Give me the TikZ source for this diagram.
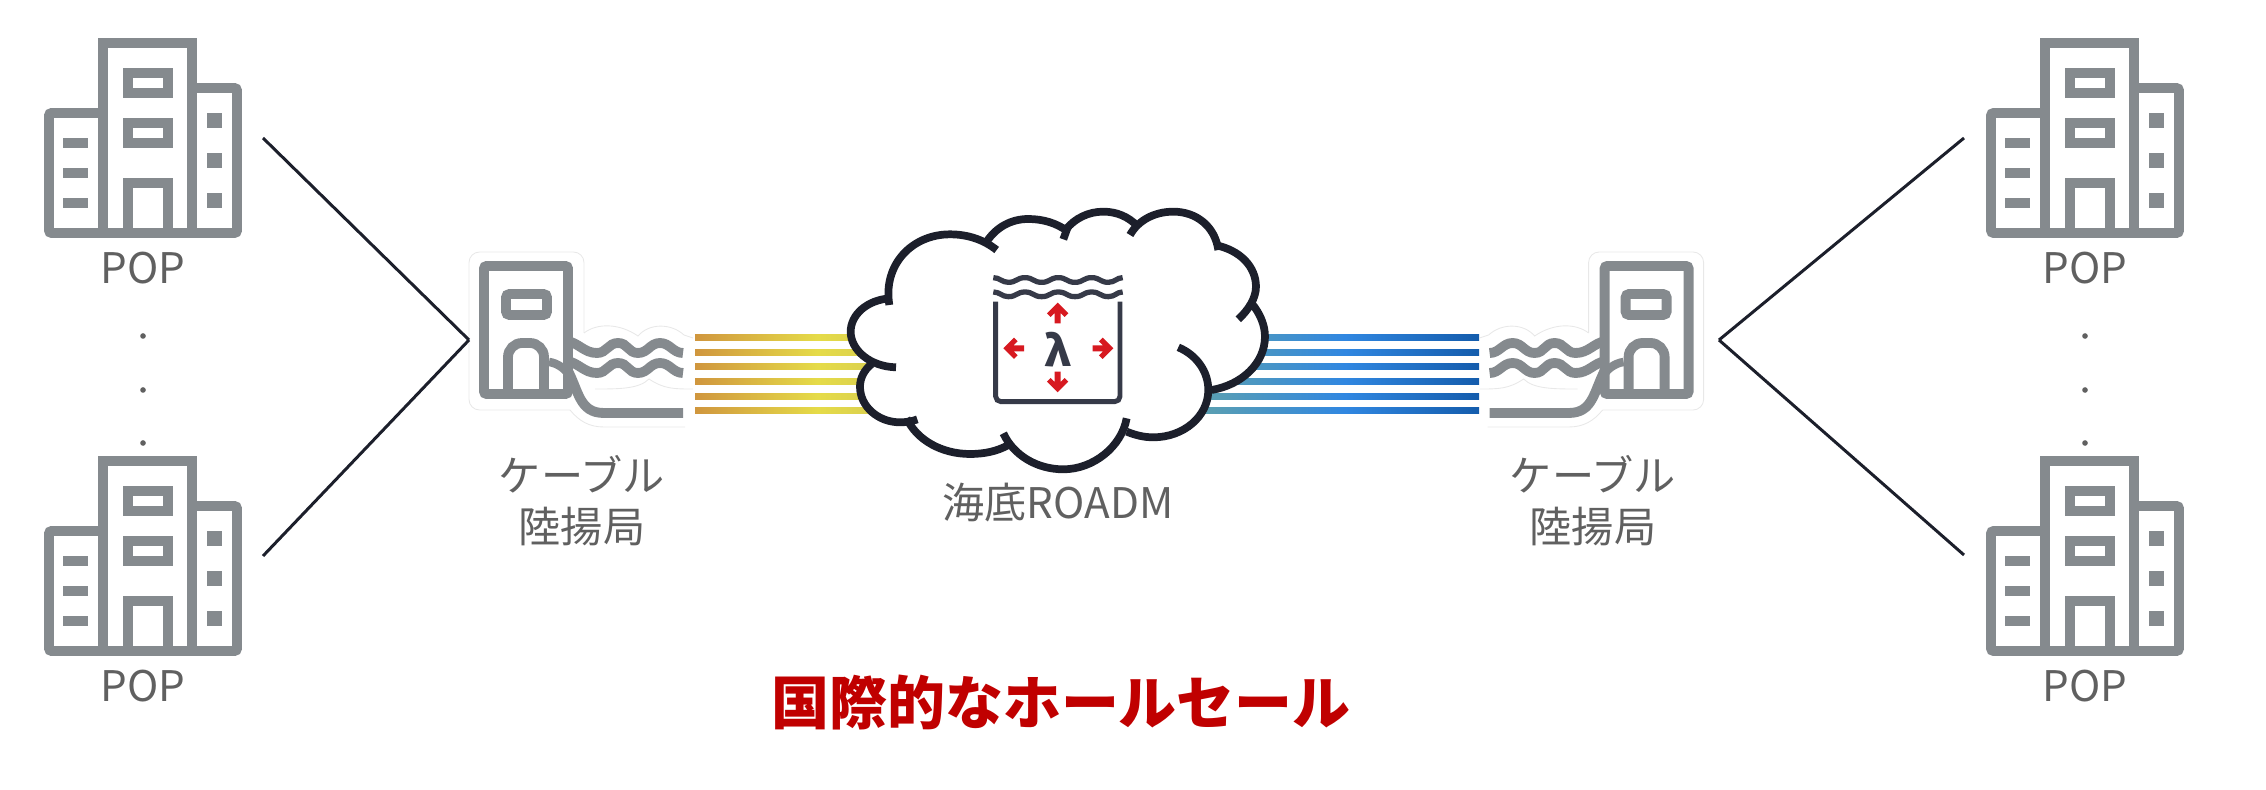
\documentclass[tikz,border=0pt]{standalone}
\usepackage{fontspec}
\setmainfont{Noto Sans CJK JP}
\usetikzlibrary{positioning}
\definecolor{colorbuilding}{RGB}{133,138,142}
\definecolor{colorcloud}   {RGB}{ 28, 31, 43}
\definecolor{colorlink}    {RGB}{ 28, 31, 43}
\definecolor{colorlabel}   {RGB}{ 96, 96, 96}
\definecolor{colortitle}   {RGB}{192,  0,  0}
\definecolor{colorarrow}   {RGB}{215, 25, 32}
\definecolor{colorroadm}   {RGB}{ 54, 58, 72}
\definecolor{fibreorange}  {RGB}{208,150, 62}
\definecolor{fibreyellow}  {RGB}{229,219, 72}
\definecolor{fibreolive}   {RGB}{218,208, 80}
\definecolor{fibreteal}    {RGB}{ 92,160,176}
\definecolor{fibreblue}    {RGB}{ 48,135,225}
\definecolor{fibredark}    {RGB}{ 20, 92,172}
\pgfdeclarehorizontalshading{warmfibre}{100bp}{color(0bp)=(fibreorange); color(25bp)=(fibreorange); color(59bp)=(fibreyellow); color(75bp)=(fibreolive); color(100bp)=(fibreolive)}
\pgfdeclarehorizontalshading{coolfibre}{100bp}{color(0bp)=(fibreteal); color(25bp)=(fibreteal); color(51bp)=(fibreblue); color(75bp)=(fibredark); color(100bp)=(fibredark)}
\begin{document}
\begin{tikzpicture}[
    x=0.02cm, y=-0.02cm,
    node distance = 2em,
    link/.style={draw=colorlink,line width=1.7pt},
    wall/.style={draw=colorbuilding,line width=5.6pt},
    halo/.style={draw=black!9,line width=0.5pt},
    cloudline/.style={draw=colorcloud,line width=4.4pt},
    roadmline/.style={draw=colorroadm,line width=2.8pt},
    base/.style={text=colorlabel,font={\fontsize{24}{29}\selectfont},inner sep=0pt,align=center},
    headline/.style={text=colortitle,font={\fontsize{33}{40}\selectfont\bfseries},inner sep=0pt},
    dotmark/.style={circle,fill=colorlabel,inner sep=0pt,minimum size=3.2pt},
    popicon/.pic={
        \draw[wall,rounded corners=1.5pt] (103,113) -- (49,113) -- (49,233) -- (237,233) -- (237,88) -- (192,88);
        \draw[wall,line join=miter] (103,233) -- (103,43) -- (192,43) -- (192,233);
        \draw[wall] (128,73) rectangle (168,93);
        \draw[wall] (128,123) rectangle (168,143);
        \draw[wall] (128,233) -- (128,183) -- (168,183) -- (168,233);
        \foreach \bary in {138,168,198} \fill[colorbuilding] (63,\bary) rectangle (88,\bary+10);
        \foreach \boxy in {113,153,193} \fill[colorbuilding] (207,\boxy) rectangle (222,\boxy+15);
    },
    stationicon/.pic={
        \draw[halo,rounded corners=6pt] (105,72) -- (105,-9) -- (-10,-9) -- (-10,149) -- (91,149);
        \draw[halo] (105,72) .. controls (118,62) and (140,62) .. (159,75) .. controls (170,62) and (192,62) .. (205,74) -- (214,77);
        \draw[halo] (91,149) .. controls (100,160) and (110,166) .. (125,166) -- (206,166);
        \draw[halo] (214,128) .. controls (195,128) and (185,128) .. (170,118) .. controls (160,128) and (140,128) .. (116,128);
        \draw[wall,rounded corners=1.5pt] (5,5) rectangle (89,133);
        \draw[wall,rounded corners=2pt] (27,33) rectangle (68,54);
        \draw[wall,rounded corners=8pt] (29,133) -- (29,82) -- (65,82) -- (65,133);
        \foreach \wavey in {82,102} {
            \draw[wall] (88,\wavey-2) .. controls (100,\wavey) and (105,\wavey+10) .. (118,\wavey+10) .. controls (128,\wavey+10) and (129,\wavey) .. (139,\wavey) .. controls (149,\wavey) and (149,\wavey+10) .. (159,\wavey+10) .. controls (169,\wavey+10) and (171,\wavey) .. (181,\wavey) .. controls (191,\wavey) and (194,\wavey+10) .. (204,\wavey+10);
        }
        \draw[wall,line width=4.8pt] (70,101) .. controls (78,102) and (88,108) .. (92,118);
        \draw[wall] (88,108) .. controls (100,130) and (100,152) .. (125,152) -- (204,152);
    },
    spreadarrow/.pic={
        \fill[colorarrow] (0,0) -- (32,32) -- (21,43) -- (9,31) -- (9,62) -- (-9,62) -- (-9,31) -- (-21,43) -- (-32,32) -- cycle;
    },
]

    \useasboundingbox (0,0) rectangle (2266,790);

    \foreach \row in {338,353,367,382,397,411} {
        \shade[shading=warmfibre] (695,\row-3) rectangle (875,\row+3);
        \shade[shading=coolfibre] (1200,\row-3) rectangle (1479,\row+3);
    }

    \pic at (0,0)      {popicon};
    \pic at (0,418)    {popicon};
    \pic at (1942,0)   {popicon};
    \pic at (1942,418) {popicon};
    \pic at (479,261)                {stationicon};
    \pic[xscale=-1] at (1693.6,261)  {stationicon};

    \node[base] (poptopleft)     at (143,268)  {POP};
    \node[base] (popbottomleft)  at (143,686)  {POP};
    \node[base] (poptopright)    at (2085,268) {POP};
    \node[base] (popbottomright) at (2085,686) {POP};

    \foreach \doty/\dotname in {336/a,390/b,443/c} {
        \node[dotmark] (dotleft\dotname)  at (143,\doty)  {};
        \node[dotmark] (dotright\dotname) at (2085,\doty) {};
    }

    \coordinate (linktopleft)     at (263,138);
    \coordinate (linkbottomleft)  at (263,556);
    \coordinate (stationleft)     at (469,340);
    \coordinate (linktopright)    at (1964,138);
    \coordinate (linkbottomright) at (1964,555);
    \coordinate (stationright)    at (1719,340);

    \draw[link](linktopleft) -- (stationleft);
    \draw[link](linkbottomleft) -- (stationleft);
    \draw[link](linktopright) -- (stationright);
    \draw[link](linkbottomright) -- (stationright);

    \node[base] (labelleft)  at (582,501)  {ケーブル\\陸揚局};
    \node[base] (labelright) at (1593,501) {ケーブル\\陸揚局};

    \begin{scope}[shift={(840,190)},x=0.02cm/3,y=-0.02cm/3]
        \fill[white] (145,320) .. controls (128,225) and (215,133) .. (330,133) .. controls (380,133) and (415,145) .. (440,155) .. controls (470,110) and (515,87) .. (565,87) .. controls (610,87) and (650,100) .. (678,118) .. controls (705,85) and (745,65) .. (790,65) .. controls (830,65) and (865,80) .. (885,105) .. controls (910,80) and (950,65) .. (1000,65) .. controls (1070,65) and (1125,100) .. (1135,165) .. controls (1200,180) and (1248,230) .. (1248,290) .. controls (1248,310) and (1242,325) .. (1235,340) .. controls (1260,370) and (1275,405) .. (1275,440) .. controls (1275,520) and (1205,585) .. (1115,600) .. controls (1105,680) and (1030,742) .. (940,742) .. controls (910,742) and (885,735) .. (855,725) .. controls (830,790) and (760,838) .. (670,838) .. controls (590,838) and (535,810) .. (500,765) .. controls (470,785) and (430,792) .. (390,792) .. controls (305,792) and (230,750) .. (200,692) .. controls (193,695) and (186,697) .. (180,697) .. controls (115,697) and (60,650) .. (60,590) .. controls (60,565) and (72,540) .. (95,522) .. controls (55,510) and (32,470) .. (32,425) .. controls (32,375) and (80,330) .. (145,320) -- cycle;
        \draw[cloudline] (148,345) .. controls (128,225) and (215,133) .. (330,133) .. controls (385,133) and (432,150) .. (470,180);
        \draw[cloudline] (440,155) .. controls (470,110) and (515,87) .. (565,87) .. controls (610,87) and (650,100) .. (680,122);
        \draw[cloudline] (683,112) -- (670,148);
        \draw[cloudline] (678,118) .. controls (705,85) and (745,65) .. (790,65) .. controls (830,65) and (865,80) .. (892,108);
        \draw[cloudline] (870,135) .. controls (895,90) and (945,65) .. (1000,65) .. controls (1070,65) and (1125,110) .. (1135,180);
        \draw[cloudline] (1125,165) .. controls (1200,180) and (1248,230) .. (1248,290) .. controls (1248,325) and (1225,360) .. (1195,388);
        \draw[cloudline] (1235,340) .. controls (1260,370) and (1275,405) .. (1275,440) .. controls (1275,520) and (1205,585) .. (1115,600);
        \draw[cloudline] (1015,472) .. controls (1070,495) and (1105,545) .. (1105,600) .. controls (1105,680) and (1030,742) .. (940,742) .. controls (910,742) and (885,735) .. (860,725);
        \draw[cloudline] (860,685) .. controls (845,770) and (760,838) .. (670,838) .. controls (590,838) and (520,795) .. (490,730);
        \draw[cloudline] (505,765) .. controls (470,785) and (430,792) .. (390,792) .. controls (305,792) and (230,750) .. (200,685);
        \draw[cloudline] (232,688) .. controls (215,695) and (195,697) .. (180,697) .. controls (115,697) and (60,650) .. (60,590) .. controls (60,565) and (72,540) .. (95,522);
        \draw[cloudline] (168,532) .. controls (90,530) and (32,480) .. (32,425) .. controls (32,375) and (80,330) .. (150,325);

        \foreach \wavey in {263,306} {
            \draw[roadmline,line width=3pt] (460,\wavey) .. controls (480,\wavey) and (485,\wavey+14) .. (505,\wavey+14) .. controls (530,\wavey+14) and (530,\wavey) .. (555,\wavey) .. controls (580,\wavey) and (580,\wavey+14) .. (605,\wavey+14) .. controls (630,\wavey+14) and (630,\wavey) .. (655,\wavey) .. controls (680,\wavey) and (680,\wavey+14) .. (705,\wavey+14) .. controls (730,\wavey+14) and (730,\wavey) .. (755,\wavey) .. controls (780,\wavey) and (780,\wavey+14) .. (805,\wavey+14) .. controls (825,\wavey+14) and (830,\wavey) .. (848,\wavey);
        }
        \draw[roadmline,rounded corners=3pt] (467,335) -- (467,635) -- (840,635) -- (840,335);
        \pic at (653,338) {spreadarrow};
        \pic[rotate=90] at (490,475) {spreadarrow};
        \pic[rotate=180] at (653,607) {spreadarrow};
        \pic[rotate=270] at (820,475) {spreadarrow};
        \node[text=colorroadm,font={\fontsize{24}{29}\selectfont\bfseries},inner sep=0pt] (lambdamark) at (653,478) {λ};
    \end{scope}

    \node[base] (labelroadm) at (1058,503) {海底ROADM};
    \node[headline] (headtitle) at (1061,702) {国際的なホールセール};

\end{tikzpicture}
\end{document}
